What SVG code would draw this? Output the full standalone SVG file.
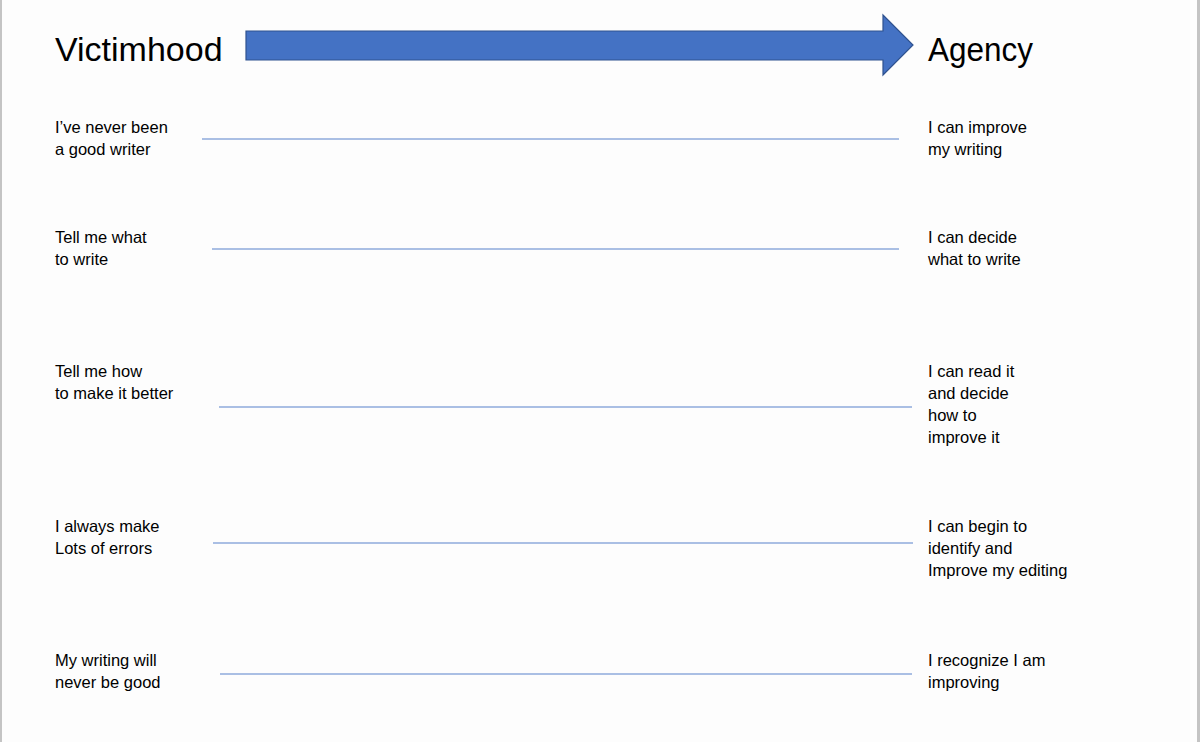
<svg xmlns="http://www.w3.org/2000/svg" width="1200" height="742" viewBox="0 0 1200 742">
<style>
.t{font-family:"Liberation Sans",Arial,sans-serif;font-size:16.5px;fill:#000}
.h{font-family:"Liberation Sans",Arial,sans-serif;font-size:34px;fill:#000}
.c{stroke:#8eaadb;stroke-width:1.3;fill:none}
</style>
<rect width="1200" height="742" fill="#fdfdfd"/>
<rect x="0" y="0" width="2" height="742" fill="#c4c4c4"/>
<rect x="1197" y="0" width="3" height="742" fill="#c4c4c4"/>
<g id="arrow">
<polygon points="246,31 883,31 883,15 913,45 883,75 883,60 246,60" fill="#4472c4" stroke="#2f528f" stroke-width="1.2"/>
</g>
<g id="victimhood"><text class="h" x="55" y="61">Victimhood</text></g>
<g id="agency"><text class="h" x="928" y="61" textLength="105" lengthAdjust="spacingAndGlyphs">Agency</text></g>
<g id="connectors">
<line class="c" x1="202" y1="139" x2="899" y2="139"/>
<line class="c" x1="212" y1="249" x2="899" y2="249"/>
<line class="c" x1="219" y1="407" x2="912" y2="407"/>
<line class="c" x1="213" y1="543" x2="913" y2="543"/>
<line class="c" x1="220" y1="674" x2="912" y2="674"/>
</g>
<g id="left1"><text class="t" x="55" y="133">I’ve never been</text><text class="t" x="55" y="155">a good writer</text></g>
<g id="right1"><text class="t" x="928" y="133">I can improve</text><text class="t" x="928" y="155">my writing</text></g>
<g id="left2"><text class="t" x="55" y="243">Tell me what</text><text class="t" x="55" y="265">to write</text></g>
<g id="right2"><text class="t" x="928" y="243">I can decide</text><text class="t" x="928" y="265">what to write</text></g>
<g id="left3"><text class="t" x="55" y="377">Tell me how</text><text class="t" x="55" y="399">to make it better</text></g>
<g id="right3"><text class="t" x="928" y="377">I can read it</text><text class="t" x="928" y="399">and decide</text><text class="t" x="928" y="421">how to</text><text class="t" x="928" y="443">improve it</text></g>
<g id="left4"><text class="t" x="55" y="532">I always make</text><text class="t" x="55" y="554">Lots of errors</text></g>
<g id="right4"><text class="t" x="928" y="532">I can begin to</text><text class="t" x="928" y="554">identify and</text><text class="t" x="928" y="576">Improve my editing</text></g>
<g id="left5"><text class="t" x="55" y="666">My writing will</text><text class="t" x="55" y="688">never be good</text></g>
<g id="right5"><text class="t" x="928" y="666">I recognize I am</text><text class="t" x="928" y="688">improving</text></g>
</svg>
